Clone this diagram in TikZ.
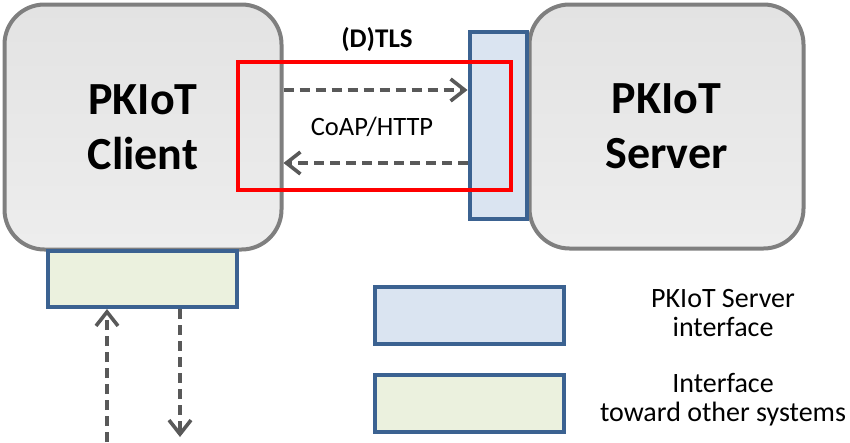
\documentclass[tikz,border=0pt]{standalone}
\usepackage{fontspec}
\setmainfont{Carlito}
\usetikzlibrary{arrows.meta}
\definecolor{boxgray}{HTML}{7F7F7F}
\definecolor{ifblue}{HTML}{DAE4F1}
\definecolor{ifgreen}{HTML}{EBF1DE}
\definecolor{ifborder}{HTML}{3B6291}
\definecolor{arrowgray}{HTML}{595959}
\begin{document}
\begin{tikzpicture}[x=1pt,y=-1pt,
  bigbox/.style={draw=boxgray, line width=4pt, rounded corners=40pt,
    top color=black!11, bottom color=black!7, inner sep=0pt,
    align=center, font=\bfseries\fontsize{46}{55}\selectfont},
  ifbox/.style={draw=ifborder, line width=4pt, inner sep=0pt},
  dasharrow/.style={draw=arrowgray, line width=3.6pt, dash pattern=on 10pt off 6pt,
    -{Straight Barb[length=14pt,width=22pt,line width=3.6pt]}},
  legtext/.style={align=center, font=\fontsize{28}{29}\selectfont}
]
\useasboundingbox (0,0) rectangle (850,442);
% main boxes
\node[bigbox, minimum width=277pt, minimum height=245pt] (client) at (143,127) {PKIoT\\Client};
\node[bigbox, minimum width=274pt, minimum height=244pt] (server) at (666.5,126.5) {PKIoT\\Server};
\node[ifbox, fill=ifgreen, minimum width=189pt, minimum height=56pt] (green) at (142,279) {};
\node[ifbox, fill=ifblue, minimum width=57pt, minimum height=187pt] (iface) at (498,125) {};
% secure channel
\node[draw=red, line width=4.5pt, minimum width=273pt, minimum height=128pt, inner sep=0pt] (tls) at (374.5,126) {};
\node[font=\bfseries\fontsize{27}{30}\selectfont] (tlslabel) at (377,40) {(D)TLS};
\node[font=\fontsize{26.5}{30}\selectfont] (coap) at (372,127) {CoAP/HTTP};
% arrows
\coordinate (t1) at (0,90);
\coordinate (t2) at (0,163);
\draw[dasharrow] (client.east |- t1) -- (iface.west |- t1);
\draw[dasharrow] (iface.west |- t2) -- (client.east |- t2);
\coordinate (b1) at (107,442);
\coordinate (b2) at (180,437);
\draw[dasharrow] (b1) -- (green.south -| b1);
\draw[dasharrow] (green.south -| b2) -- (b2);
% legend
\node[ifbox, fill=ifblue, minimum width=189pt, minimum height=57pt] (legblue) at (469,315) {};
\node[ifbox, fill=ifgreen, minimum width=189pt, minimum height=57pt] (leggreen) at (469,403) {};
\node[legtext] (legbluetext) at (723,313) {PKIoT Server\\interface};
\node[legtext] (leggreentext) at (723,400) {Interface\\toward other systems};
\end{tikzpicture}
\end{document}
